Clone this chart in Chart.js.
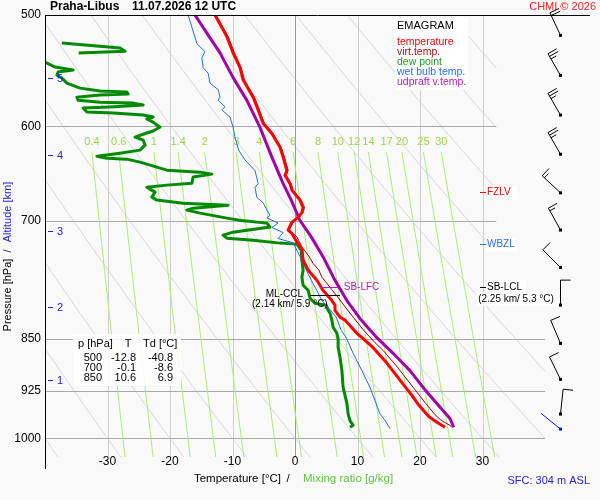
<!DOCTYPE html>
<html>
<head>
<meta charset="utf-8">
<title>Emagram Praha-Libus</title>
<script src="https://cdn.jsdelivr.net/npm/chart.js@4.4.1/dist/chart.umd.min.js"></script>
<style>
  html, body { margin: 0; padding: 0; background: #f9f9f9; }
  canvas { display: block; }
</style>
</head>
<body>
<canvas id="emagram" width="600" height="500"></canvas>
<script>
const FONT = '"Liberation Sans", Arial, sans-serif';

// sounding values (pressure hPa / temperature °C)
const tempP = [500, 518, 532, 545, 556, 572, 584, 597, 607, 621, 631, 645, 650, 659, 666, 677, 685, 691, 696, 700, 702, 711, 715, 725, 733, 747, 759, 772, 785, 798, 804, 811, 820, 824, 842, 850, 862, 884, 909, 932, 947, 965, 974, 982];
const tempT = [-12.8, -10.9, -9.9, -8.8, -8.3, -6.7, -5.9, -5.1, -3.7, -2.4, -1.9, -1.3, -1.6, -0.8, -0.5, 0.8, 1.3, 1.1, 0.5, -0.1, -0.5, -1.1, -0.5, 0.3, 1.1, 1.3, 2.1, 3.5, 4.5, 5.9, 6.4, 6.4, 7.2, 8.0, 9.9, 11.0, 12.5, 14.7, 16.8, 18.7, 19.8, 21.4, 22.7, 24.0];

const virtP = [500, 518, 532, 545, 556, 572, 584, 597, 607, 621, 631, 645, 650, 659, 666, 677, 685, 691, 696, 700, 702, 711, 715, 719, 731, 742, 751, 759, 768, 781, 794, 804, 820, 838, 855, 866, 890, 902, 921, 943, 962, 971, 979, 982];
const virtT = [-12.6, -10.7, -9.7, -8.6, -8.1, -6.5, -5.7, -4.9, -3.5, -2.2, -1.7, -1.1, -1.4, -0.6, -0.3, 1.0, 1.5, 1.3, 0.7, 0.1, -0.3, -0.9, -0.3, 0.3, 1.1, 2.2, 2.9, 3.8, 4.3, 5.6, 6.9, 7.8, 9.3, 11.0, 12.8, 14.1, 16.4, 17.4, 19.0, 20.8, 22.4, 23.4, 24.8, 25.1];

// null = dew point leaves the diagram (below -40)
const dewP = [500, 520, 522, 523.5, 527.8, 530.5, 532.1, 535, 539.2, 540.1, 544.5, 547.2, 548.9, 551.6, 554.3, 559.0, 563.6, 566.3, 567.2, 569.1, 570.0, 572.0, 574.8, 576.7, 577.6, 579.4, 581.3, 582.3, 586.1, 587.0, 589.0, 590.9, 592.8, 595.8, 598.7, 600.7, 604.6, 606.6, 610.6, 613.6, 618.7, 623.8, 626.9, 630.0, 632.1, 633.1, 636.2, 644.6, 646.7, 648.8, 651.9, 658.5, 660.6, 662.8, 668.2, 673.7, 677.0, 680.4, 682.6, 686.0, 688.2, 691.6, 697.3, 700, 703.0, 707.6, 713.5, 717.0, 720.5, 722.9, 726.4, 727.6, 734.9, 747.0, 759.4, 768.2, 778.2, 784.7, 795.0, 801.5, 804.1, 810.8, 814.7, 824.2, 833.6, 842.0, 850, 861.5, 875.8, 894.6, 919.9, 944.2, 960.6, 971.4, 978.8, 982.1];
const dewT = [-40.8, -44.0, null, -37.3, -28.0, -27.2, -34.6, null, -42.4, -40.0, -38.4, -35.5, -37.9, -38.1, -37.3, -36.5, -34.4, -31.2, -26.9, -26.7, -31.2, -34.9, -34.7, -31.2, -25.9, -24.3, -29.6, -33.9, -33.3, -29.1, -24.3, -22.7, -23.7, -22.7, -22.1, -21.6, -22.7, -23.7, -25.6, -24.3, -24.0, -24.8, -28.0, -31.7, -30.1, -26.9, -24.8, -20.5, -15.2, -13.3, -16.3, -16.5, -20.5, -23.7, -22.4, -22.9, -22.1, -17.9, -10.7, -16.3, -17.3, -15.2, -10.9, -8.6, -4.5, -4.0, -9.9, -11.5, -10.9, -6.7, -2.4, 0.3, 1.0, 1.1, 1.3, 1.1, 1.3, 2.1, 2.4, 3.2, 5.0, 5.3, 5.6, 5.9, 6.1, 6.7, 6.9, 6.9, 7.2, 7.5, 7.7, 8.3, 8.5, 8.8, 9.3, 8.8];

const wetP = [500, 510, 524, 531, 536, 545, 550, 559, 565, 572, 575, 581, 584, 591, 601, 611, 624, 634, 645, 659, 663, 674, 680, 688, 694, 697, 703, 708, 714, 721, 726, 735, 747, 759, 772, 785, 798, 808, 820, 838, 848, 870, 895, 920, 940, 961, 971, 984];
const wetT = [-17.1, -16.5, -15.7, -14.4, -14.9, -14.7, -13.9, -13.6, -12.3, -12.0, -12.3, -11.2, -11.7, -10.4, -9.9, -9.6, -9.0, -8.0, -6.4, -5.9, -6.4, -6.1, -5.1, -4.5, -4.0, -4.5, -2.7, -3.7, -1.9, -2.7, -0.3, 0.3, 1.1, 1.8, 2.6, 3.5, 4.3, 5.4, 6.6, 7.4, 8.2, 9.3, 10.7, 12.0, 12.8, 13.6, 14.4, 15.2];

const parcelP = [500, 515, 532, 554, 575, 601, 631, 659, 677, 700, 719, 743, 772, 798, 824, 848, 870, 895, 920, 947, 968, 982];
const parcelT = [-16.0, -14.1, -12.0, -9.9, -7.7, -5.6, -3.7, -1.9, -0.6, 0.8, 2.6, 4.5, 6.4, 8.3, 10.6, 13.1, 15.7, 18.4, 20.5, 22.9, 24.8, 25.4];

// wind (direction deg, speed kt)
const windP = [517, 552, 589, 628, 669, 711, 756, 804, 856, 908, 961];
const windDir = [335, 330, 330, 330, 313, 331, 315, 360, 337, 334, 6];
const windSpd = [20, 25, 25, 25, 15, 15, 10, 10, 10, 10, 10];
const sfcWindP = 985, sfcWindDir = 309, sfcWindSpd = 2;

const pressureTicks = [500, 600, 700, 850, 925, 1000];
const tempTicks = [-30, -20, -10, 0, 10, 20, 30];
const mixRatios = [0.4, 0.6, 1, 1.4, 2, 3, 4, 6, 8, 10, 12, 14, 17, 20, 25, 30];
const dryAdiabats = [-40, -30, -20, -10, 0, 10, 20, 30, 40, 50, 60, 70, 80, 90, 100]; // T at 1000 hPa
const altKm = [1, 2, 3, 4, 5];
const altP = [909, 806, 712, 629, 554];

const tableP = ['500', '700', '850'];
const tableT = ['-12.8', '-0.1', '10.6'];
const tableTd = ['-40.8', '-8.6', '6.9'];

const levelNames = ['FZLV', 'WBZL', 'SB-LCL'];
const levelP = [668.5, 728, 780.3];
const levelColors = ['#ff0000', '#2a6ee8', '#000000'];

function pts(P, T) {
  return P.map((p, i) => ({ x: T[i], y: T[i] === null ? null : p }));
}

// dew point from mixing ratio (g/kg) and pressure
function mixTd(w, p) {
  const e = w * p / (622 + w);
  const l = Math.log(e / 6.112);
  return 243.5 * l / (17.67 - l);
}
function dryT(t0, p) {
  return (t0 + 273.15) * Math.pow(p / 1000, 0.2857) - 273.15;
}

const gridPlugin = {
  id: 'grid',
  beforeDatasetsDraw(chart) {
    const ctx = chart.ctx, xs = chart.scales.x, ys = chart.scales.y, a = chart.chartArea;
    ctx.save();
    const yCut = ys.getPixelForValue(810);
    const xCut = xs.getPixelForValue(32.2);
    ctx.beginPath();
    ctx.rect(a.left, a.top, xCut - a.left, yCut - a.top);
    ctx.rect(a.left, yCut, a.right - a.left, a.bottom - yCut);
    ctx.clip();
    ctx.lineWidth = 1;

    // dry adiabats
    ctx.strokeStyle = '#d6d6d6';
    dryAdiabats.forEach(t0 => {
      ctx.beginPath();
      for (let p = 500; p <= 1031; p += 3) {
        const x = xs.getPixelForValue(dryT(t0, p)), y = ys.getPixelForValue(p);
        if (p === 500) ctx.moveTo(x, y); else ctx.lineTo(x, y);
      }
      ctx.stroke();
    });

    // isotherms
    tempTicks.forEach(t => {
      const x = Math.round(xs.getPixelForValue(t)) + 0.5;
      ctx.strokeStyle = t === 0 ? '#999999' : '#d0d0d0';
      ctx.beginPath(); ctx.moveTo(x, a.top); ctx.lineTo(x, a.bottom); ctx.stroke();
    });

    // isobars
    ctx.strokeStyle = '#aaaaaa';
    pressureTicks.slice(1).forEach(p => {
      const y = Math.round(ys.getPixelForValue(p)) + 0.5;
      ctx.beginPath(); ctx.moveTo(a.left, y); ctx.lineTo(a.right, y); ctx.stroke();
    });

    // mixing ratio lines
    ctx.strokeStyle = '#a6ef70';
    mixRatios.forEach(w => {
      ctx.beginPath();
      for (let p = 626; p <= 1031; p += 5) {
        const x = xs.getPixelForValue(mixTd(w, p)), y = ys.getPixelForValue(p);
        if (p === 626) ctx.moveTo(x, y); else ctx.lineTo(x, y);
      }
      ctx.stroke();
    });
    ctx.restore();

    // mixing ratio labels
    ctx.save();
    ctx.font = '11px ' + FONT;
    ctx.fillStyle = '#9bd64b';
    ctx.textAlign = 'center';
    ctx.textBaseline = 'middle';
    mixRatios.forEach(w => {
      ctx.fillText(String(w), xs.getPixelForValue(mixTd(w, 626)), ys.getPixelForValue(616));
    });
    ctx.restore();
  }
};

function drawBarb(ctx, x0, y0, dir, spd, color) {
  const r = dir * Math.PI / 180;
  const ux = Math.sin(r), uy = -Math.cos(r);
  const L = 25;
  const tx = x0 + ux * L, ty = y0 + uy * L;
  const fx = -uy, fy = ux;
  ctx.strokeStyle = color;
  ctx.lineWidth = 1;
  ctx.beginPath();
  ctx.moveTo(x0, y0); ctx.lineTo(tx, ty);
  let s = Math.round(spd / 5) * 5, k = 0;
  while (s >= 10) {
    const bx = tx - ux * k * 3, by = ty - uy * k * 3;
    ctx.moveTo(bx, by); ctx.lineTo(bx + fx * 10, by + fy * 10);
    s -= 10; k++;
  }
  if (s >= 5) {
    const bx = tx - ux * k * 3, by = ty - uy * k * 3;
    ctx.moveTo(bx, by); ctx.lineTo(bx + fx * 6, by + fy * 6);
  }
  ctx.stroke();
  ctx.fillStyle = color;
  ctx.fillRect(x0 - 1.5, y0 - 1.5, 3, 3);
}

const overlayPlugin = {
  id: 'overlay',
  afterDraw(chart) {
    const ctx = chart.ctx, xs = chart.scales.x, ys = chart.scales.y, a = chart.chartArea;
    ctx.save();
    ctx.textBaseline = 'middle';

    // frame
    ctx.strokeStyle = '#000';
    ctx.lineWidth = 1;
    ctx.beginPath();
    ctx.moveTo(a.left + 0.5, a.top); ctx.lineTo(a.left + 0.5, a.bottom + 12);
    ctx.moveTo(a.left, a.top + 0.5); ctx.lineTo(590, a.top + 0.5);
    ctx.stroke();

    // pressure ticks
    ctx.font = '12px ' + FONT;
    ctx.fillStyle = '#000';
    ctx.textAlign = 'right';
    pressureTicks.forEach(p => ctx.fillText(String(p), 41, ys.getPixelForValue(p)));

    // temperature ticks
    ctx.textAlign = 'center';
    tempTicks.forEach(t => ctx.fillText(String(t), xs.getPixelForValue(t), a.bottom + 5));

    // altitude
    ctx.font = '11px ' + FONT;
    ctx.fillStyle = '#2222dd';
    ctx.strokeStyle = '#2222dd';
    ctx.textAlign = 'left';
    altKm.forEach((km, i) => {
      const y = Math.round(ys.getPixelForValue(altP[i])) + 0.5;
      ctx.beginPath(); ctx.moveTo(48, y); ctx.lineTo(53, y); ctx.stroke();
      ctx.fillText(String(km), 57, y);
    });

    // axis titles
    ctx.font = '11.5px ' + FONT;
    ctx.fillStyle = '#000';
    ctx.textAlign = 'right';
    ctx.fillText('Temperature [°C]', 281, 479);
    ctx.textAlign = 'center';
    ctx.fillText('/', 288, 479);
    ctx.textAlign = 'left';
    ctx.fillStyle = '#5cc83a';
    ctx.fillText('Mixing ratio [g/kg]', 303, 479);

    ctx.save();
    ctx.font = '11px ' + FONT;
    ctx.translate(8, 0);
    ctx.rotate(-Math.PI / 2);
    ctx.textAlign = 'center';
    ctx.fillStyle = '#000';
    ctx.fillText('Pressure [hPa]', -295, 0);
    ctx.fillText('/', -251, 0);
    ctx.fillStyle = '#2222dd';
    ctx.fillText('Altitude [km]', -212, 0);
    ctx.restore();

    // title + copyright
    ctx.textAlign = 'left';
    ctx.font = 'bold 12px ' + FONT;
    ctx.fillStyle = '#000';
    ctx.fillText('Praha-Libus', 50, 7);
    ctx.fillText('11.07.2026 12 UTC', 132, 7);
    ctx.font = '11px ' + FONT;
    ctx.fillStyle = '#ff2020';
    ctx.textAlign = 'right';
    ctx.fillText('CHMI © 2026', 596, 7);
    ctx.fillStyle = '#2222dd';
    ctx.fillText('SFC: 304 m ASL', 590, 481);

    // legend box
    ctx.fillStyle = '#ffffff';
    ctx.fillRect(395, 18, 73, 72);
    ctx.textAlign = 'left';
    ctx.font = '11px ' + FONT;
    ctx.fillStyle = '#000';
    ctx.fillText('EMAGRAM', 397, 26);
    const legNames = ['temperature', 'virt.temp.', 'dew point', 'wet bulb temp.', 'udpraft v.temp.'];
    const legColors = ['#ff0000', '#a01010', '#1f9a1f', '#2a6ee8', '#b020b0'];
    ctx.font = '10.5px ' + FONT;
    legNames.forEach((n, i) => {
      ctx.fillStyle = legColors[i];
      ctx.fillText(n, 397, 42 + i * 10);
    });

    // table
    ctx.fillStyle = 'rgba(255,255,255,0.85)';
    ctx.fillRect(73, 334, 108, 52);
    ctx.fillStyle = '#000';
    ctx.font = '11px ' + FONT;
    ctx.textAlign = 'left';
    ctx.fillText('p [hPa]', 78, 344);
    ctx.fillText('Td [°C]', 143, 344);
    ctx.textAlign = 'center';
    ctx.fillText('T', 128, 344);
    ctx.textAlign = 'right';
    tableP.forEach((p, i) => {
      const y = 358 + i * 10;
      ctx.fillText(p, 102, y);
      ctx.fillText(tableT[i], 136, y);
      ctx.fillText(tableTd[i], 173, y);
    });

    // level labels on the right
    ctx.font = '10px ' + FONT;
    levelNames.forEach((n, i) => {
      const y = Math.round(ys.getPixelForValue(levelP[i])) + 0.5;
      ctx.fillStyle = '#ffffff';
      ctx.fillRect(486, y - 7, n === 'SB-LCL' ? 40 : 31, 14);
      if (n === 'SB-LCL') ctx.fillRect(476, y + 5, 82, 13);
      ctx.strokeStyle = levelColors[i];
      ctx.beginPath(); ctx.moveTo(480, y); ctx.lineTo(486, y); ctx.stroke();
      ctx.fillStyle = levelColors[i];
      ctx.textAlign = 'left';
      ctx.fillText(n, 487, y);
      if (n === 'SB-LCL') {
        ctx.textAlign = 'center';
        ctx.fillText('(2.25 km/ 5.3 °C)', 516, y + 11.5);
      }
    });

    // SB-LFC
    let y = Math.round(ys.getPixelForValue(780.7)) + 0.5;
    ctx.strokeStyle = '#b020b0';
    ctx.beginPath(); ctx.moveTo(xs.getPixelForValue(4.0), y); ctx.lineTo(xs.getPixelForValue(6.9), y); ctx.stroke();
    ctx.fillStyle = '#b020b0';
    ctx.textAlign = 'left';
    ctx.fillText('SB-LFC', xs.getPixelForValue(7.8), y);

    // ML-CCL
    y = Math.round(ys.getPixelForValue(791)) + 0.5;
    ctx.strokeStyle = '#000';
    ctx.beginPath(); ctx.moveTo(xs.getPixelForValue(2.4), y); ctx.lineTo(xs.getPixelForValue(7.2), y); ctx.stroke();
    ctx.fillStyle = '#000';
    ctx.textAlign = 'right';
    ctx.fillText('ML-CCL', 303, y - 1);
    ctx.textAlign = 'left';
    ctx.fillText('(2.14 km/ 5.9 °C)', 252, y + 9);

    // wind barbs
    windP.forEach((p, i) => drawBarb(ctx, 560.5, ys.getPixelForValue(p), windDir[i], windSpd[i], '#000'));
    drawBarb(ctx, 560.5, ys.getPixelForValue(sfcWindP), sfcWindDir, sfcWindSpd, '#1010ee');

    ctx.restore();
  }
};

new Chart(document.getElementById('emagram'), {
  type: 'scatter',
  data: {
    datasets: [
      { label: 'temperature', data: pts(tempP, tempT), borderColor: '#ff0000', borderWidth: 3 },
      { label: 'virt.temp.', data: pts(virtP, virtT), borderColor: '#990000', borderWidth: 1 },
      { label: 'udpraft v.temp.', data: pts(parcelP, parcelT), borderColor: '#a000a8', borderWidth: 3 },
      { label: 'wet bulb temp.', data: pts(wetP, wetT), borderColor: '#1e6ee6', borderWidth: 1 },
      { label: 'dew point', data: pts(dewP, dewT), borderColor: '#008a00', borderWidth: 3 }
    ].map(d => Object.assign(d, { showLine: true, pointRadius: 0, borderJoinStyle: 'round', spanGaps: false }))
  },
  options: {
    responsive: false,
    animation: false,
    devicePixelRatio: 1,
    layout: { padding: { left: 45, right: 55, top: 15, bottom: 43 } },
    scales: {
      x: { type: 'linear', min: -40, max: 40, display: false, bounds: 'data' },
      y: { type: 'logarithmic', min: 500, max: 1031, reverse: true, display: false, bounds: 'data' }
    },
    plugins: { legend: { display: false }, tooltip: { enabled: false } },
    events: []
  },
  plugins: [gridPlugin, overlayPlugin]
});
</script>
</body>
</html>
